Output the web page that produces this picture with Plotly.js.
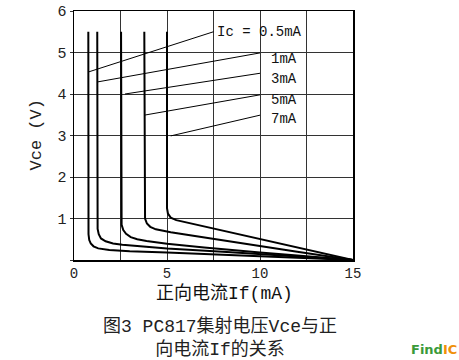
<!DOCTYPE html>
<html>
<head>
<meta charset="utf-8">
<script src="https://cdn.plot.ly/plotly-3.0.1.min.js"></script>
<style>html,body{margin:0;padding:0;background:#fff;}#chart{width:459px;height:360px;}</style>
</head>
<body>
<div id="chart"></div>
<script>
// Curves: forward current If (mA) vs Vce (V) for each Ic
var seriesNames = ["Ic = 0.5mA", "1mA", "3mA", "5mA", "7mA"];
var if1 = [0.77,0.77,0.78,0.82,0.9,1.05,1.3,1.9,3,5,8,11,15];
var vce1 = [5.5,0.85,0.62,0.48,0.4,0.33,0.28,0.24,0.21,0.18,0.13,0.08,0];
var if2 = [1.25,1.25,1.27,1.33,1.45,1.7,2.1,2.6,3.5,5,8,11,15];
var vce2 = [5.5,0.95,0.75,0.62,0.52,0.45,0.4,0.37,0.33,0.28,0.2,0.12,0];
var if3 = [2.53,2.53,2.56,2.65,2.8,3.05,3.4,3.9,5,7,10,15];
var vce3 = [5.5,1.05,0.85,0.72,0.63,0.55,0.5,0.46,0.39,0.3,0.18,0];
var if4 = [3.78,3.78,3.82,3.92,4.1,4.4,4.8,5.2,6.5,9,12,15];
var vce4 = [5.5,1.2,1.0,0.88,0.8,0.74,0.7,0.67,0.58,0.4,0.2,0];
var if5 = [5.0,5.0,5.05,5.2,5.5,6,6.77,9,12,15];
var vce5 = [5.5,1.25,1.12,1.02,0.96,0.91,0.84,0.61,0.3,0];

// Leader lines: from label (labelX,labelY) to curve point (pointX,pointY)
var labelX = [7.5, 10, 10, 10, 10];
var labelY = [5.5, 4.99, 4.5, 3.98, 3.49];
var pointX = [0.77, 1.25, 2.74, 3.78, 5.2];
var pointY = [4.53, 4.29, 4.0, 3.49, 2.99];
var textX = [7.6, 10.5, 10.5, 10.5, 10.5];
var textY = [5.5, 4.85, 4.35, 3.85, 3.4];

var xTickVals = [0, 2.5, 5, 7.5, 10, 12.5, 15];
var xTickText = ["0", "", "5", "", "10", "", "15"];
var yTickVals = [0, 1, 2, 3, 4, 5, 6];
var yTickText = ["", "1", "2", "3", "4", "5", "6"];

var xTitle = "正向电流If(mA)";
var yTitle = "Vce (V)";
var caption = "图3 PC817集射电压Vce与正<br>向电流If的关系";

var mono = "Liberation Mono, Noto Sans CJK SC, monospace";

var curveX = [if1, if2, if3, if4, if5];
var curveY = [vce1, vce2, vce3, vce4, vce5];
var traces = [];
for (var i = 0; i < curveX.length; i++) {
  traces.push({x: curveX[i], y: curveY[i], mode: "lines", type: "scatter",
    line: {color: "#000", width: 2}, hoverinfo: "skip", showlegend: false});
}
for (var j = 0; j < labelX.length; j++) {
  traces.push({x: [labelX[j], pointX[j]], y: [labelY[j], pointY[j]], mode: "lines", type: "scatter",
    line: {color: "#000", width: 1}, hoverinfo: "skip", showlegend: false});
}

var annotations = [];
for (var k = 0; k < seriesNames.length; k++) {
  annotations.push({x: textX[k], y: textY[k], xref: "x", yref: "y", text: seriesNames[k],
    showarrow: false, xanchor: "left", yanchor: "middle", bgcolor: "rgba(255,255,255,0)",
    font: {family: mono, size: 14, color: "#111"}});
}
annotations.push({x: 0.541, y: 0, xref: "paper", yref: "paper", yshift: -33, text: xTitle, borderpad: 0,
  showarrow: false, xanchor: "center", yanchor: "middle", font: {family: mono, size: 18, color: "#111"}});
annotations.push({x: 0, y: 0.5, xref: "paper", yref: "paper", xshift: -38, text: yTitle, textangle: -90,
  showarrow: false, xanchor: "center", yanchor: "middle", font: {family: mono, size: 17, color: "#222"}});
annotations.push({x: 0.523, y: 0, xref: "paper", yref: "paper", yshift: -78, text: caption,
  showarrow: false, xanchor: "center", yanchor: "middle", align: "center",
  font: {family: mono, size: 18, color: "#222"}});
annotations.push({x: 1, y: 0, xref: "paper", yref: "paper", xshift: 106, yshift: -89, text:
  "<b><span style='color:#3a9a3a'>Find</span><span style='color:#f0900a'>IC</span></b>",
  showarrow: false, xanchor: "right", yanchor: "middle", font: {family: "DejaVu Sans", size: 13}});

var layout = {
  width: 459, height: 360,
  margin: {l: 74, r: 106, t: 11, b: 100, pad: 0},
  paper_bgcolor: "#fff", plot_bgcolor: "#fff",
  showlegend: false,
  xaxis: {range: [0, 15], tickvals: xTickVals, ticktext: xTickText, showgrid: true,
    gridcolor: "#333", gridwidth: 1, zeroline: false, showline: true, linecolor: "#000",
    linewidth: 1.5, mirror: true, ticks: "", fixedrange: true,
    tickfont: {family: mono, size: 14, color: "#222"}},
  yaxis: {range: [0, 6], tickvals: yTickVals, ticktext: yTickText, showgrid: true,
    gridcolor: "#333", gridwidth: 1, zeroline: false, showline: true, linecolor: "#000",
    linewidth: 1.5, mirror: true, ticks: "outside", ticklen: 3, tickcolor: "#333", fixedrange: true,
    tickfont: {family: mono, size: 15, color: "#222"}},
  annotations: annotations
};

Plotly.newPlot("chart", traces, layout, {staticPlot: true, displayModeBar: false});
</script>
</body>
</html>
